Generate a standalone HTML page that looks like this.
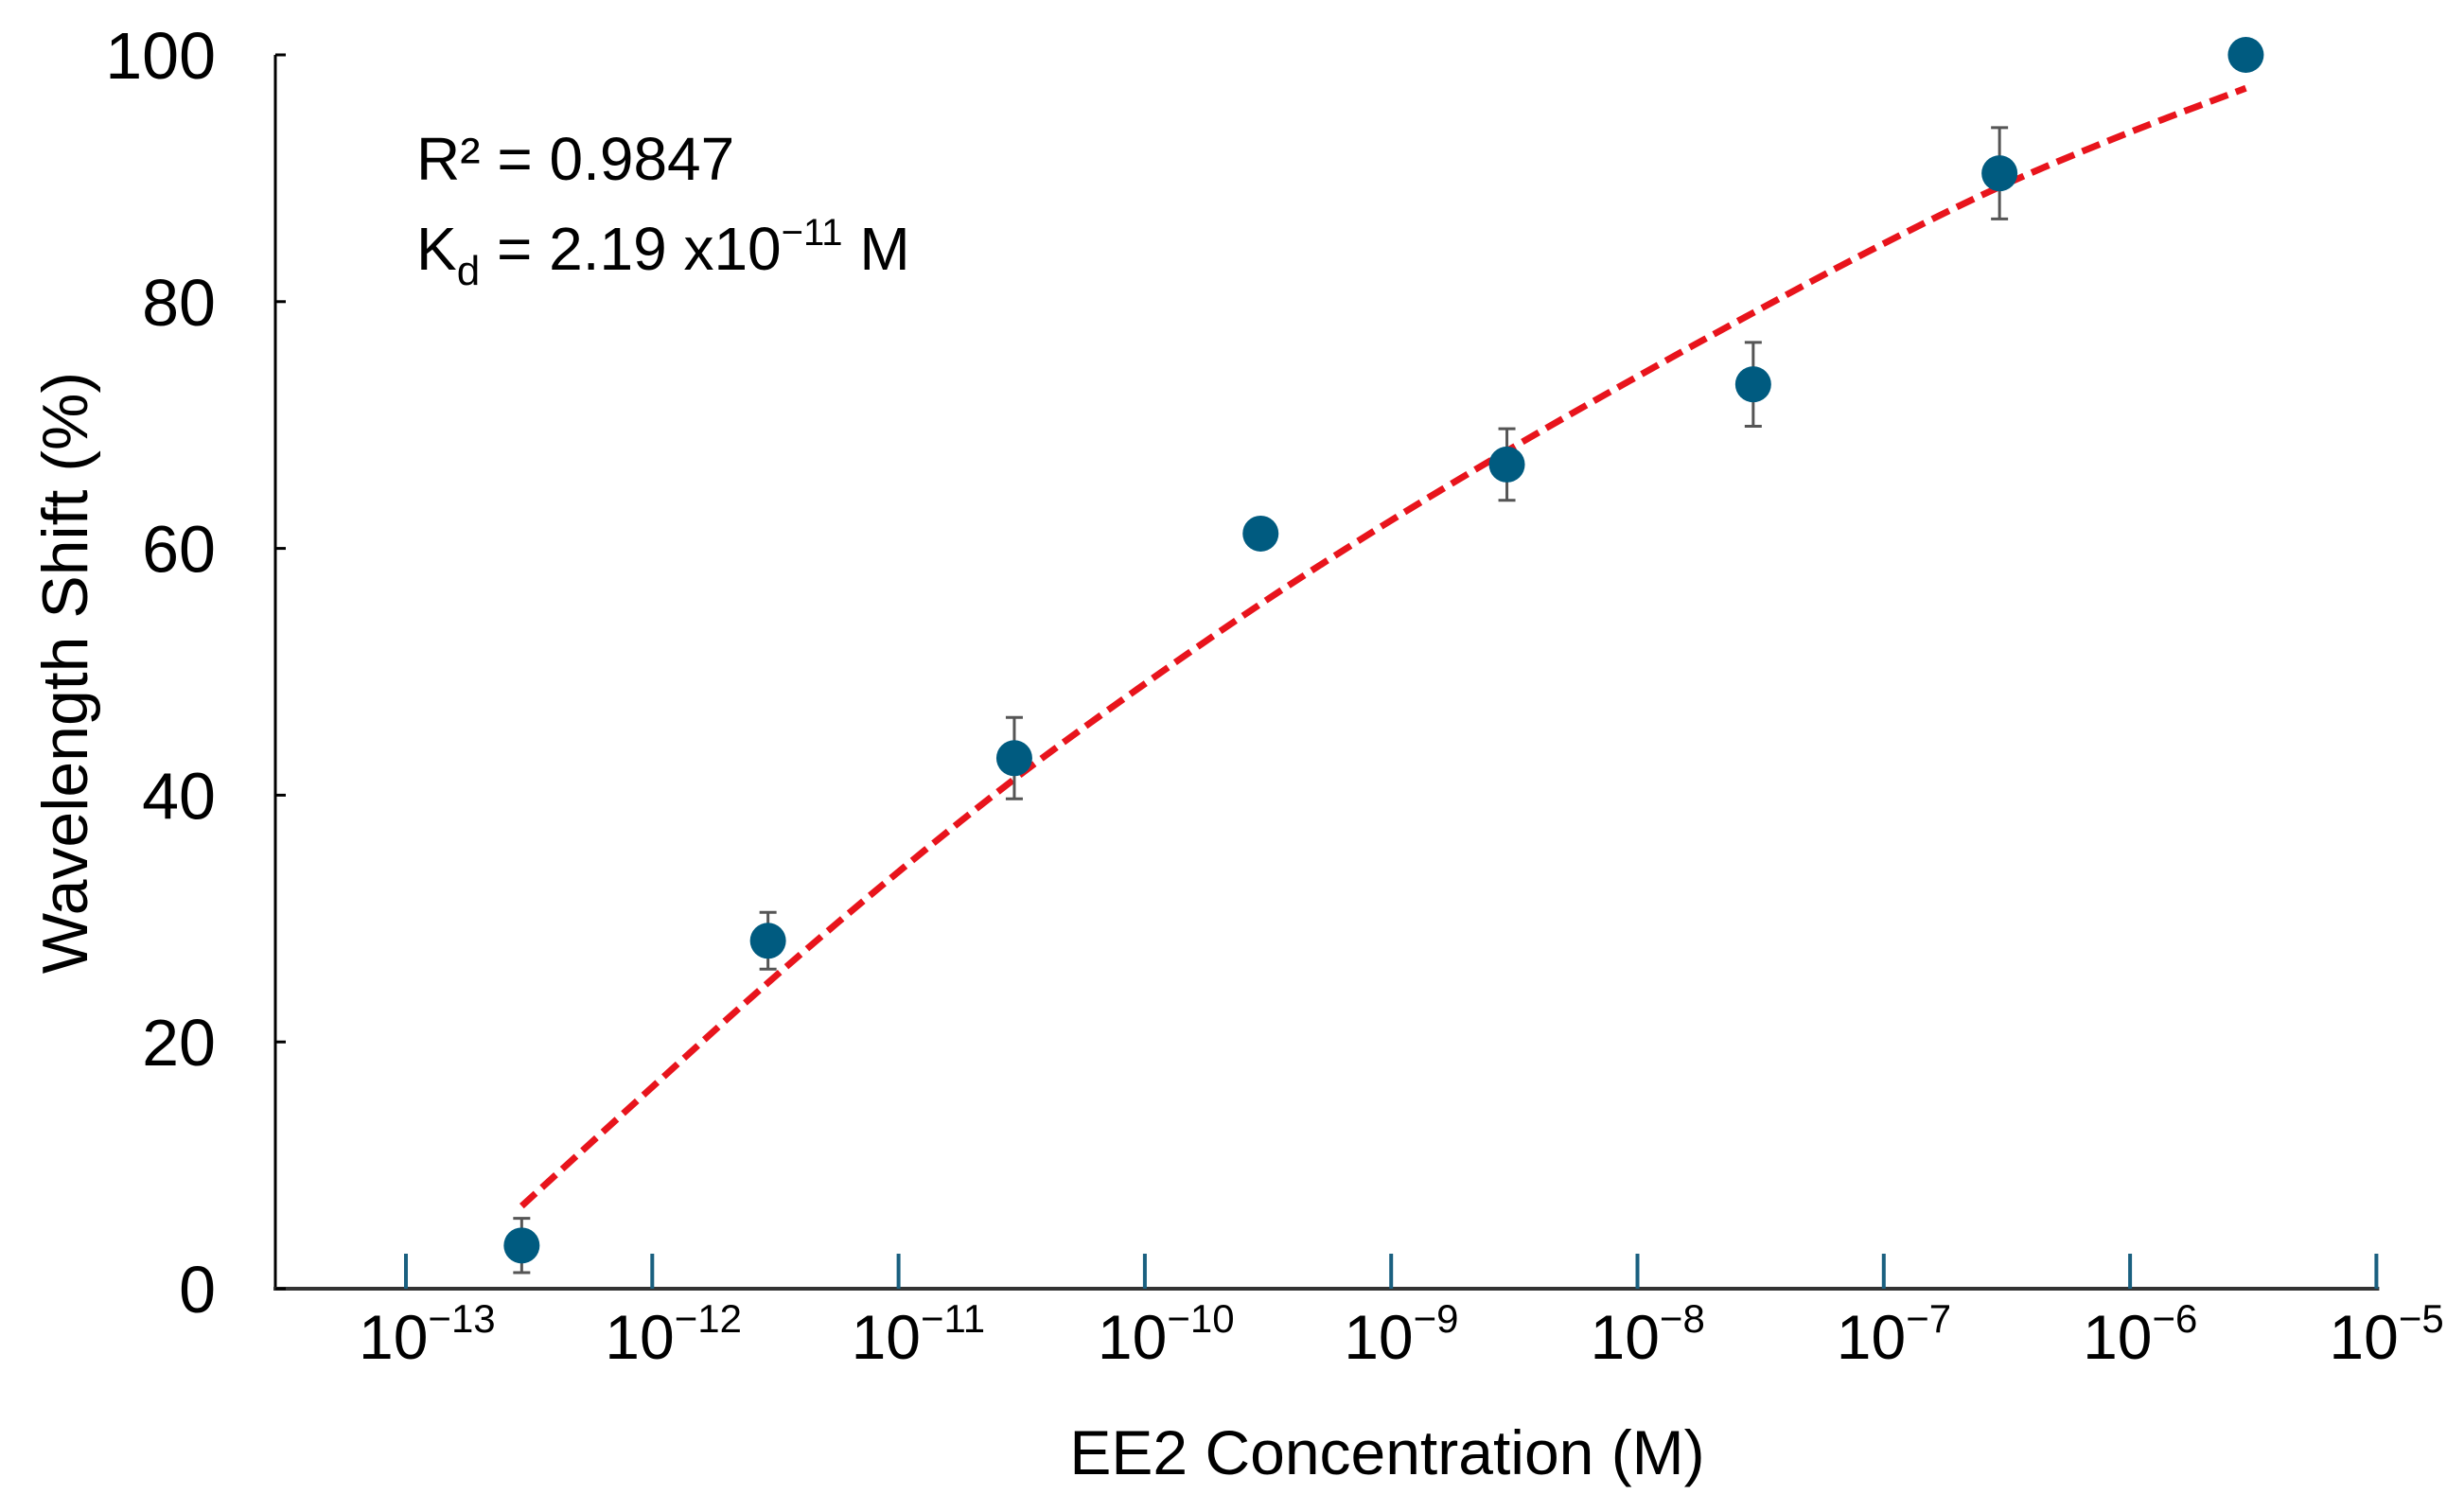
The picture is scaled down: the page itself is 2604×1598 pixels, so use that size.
<!DOCTYPE html>
<html><head><meta charset="utf-8"><style>
html,body{margin:0;padding:0;background:#fff;}
svg{display:block;font-family:"Liberation Sans",Arial,sans-serif;}
</style></head><body>
<svg id="chart" width="2604" height="1598" viewBox="0 0 2604 1598" xmlns="http://www.w3.org/2000/svg">
<g id="axes"></g>
<g id="fit"></g>
<g id="pts"></g>
<text x="440" y="190" font-size="64" fill="#000">R² = 0.9847</text>
<text x="440" y="285" font-size="64" fill="#000">K<tspan font-size="44" dy="16">d</tspan><tspan dy="-16"> = 2.19 x10</tspan><tspan font-size="40" dy="-26">−11</tspan><tspan dy="26"> M</tspan></text>
<text x="1466" y="1558" font-size="66" text-anchor="middle" fill="#000">EE2 Concentration (M)</text>
<text transform="translate(92,711) rotate(-90)" font-size="68" text-anchor="middle" fill="#000">Wavelength Shift (%)</text>
</svg>
<script>
const xExp = [-12.53, -11.53, -10.53, -9.53, -8.53, -7.53, -6.53, -5.53];
const yVals = [3.5, 28.2, 43.0, 61.2, 66.8, 73.3, 90.4, 100.0];
const yErr = [2.2, 2.3, 3.3, 0, 2.9, 3.4, 3.7, 0];
const fitExp = [-12.53, -12.03, -11.53, -11.03, -10.53, -10.03, -9.53, -9.03, -8.53, -8.03, -7.53, -7.03, -6.53, -6.03, -5.53];
const fitVals = [6.7, 15.8, 24.8, 33.3, 41.3, 48.6, 55.5, 61.9, 67.9, 73.6, 79.1, 84.4, 89.3, 93.5, 97.3];
const xTickExp = [-13, -12, -11, -10, -9, -8, -7, -6, -5];
const yTicks = [0, 20, 40, 60, 80, 100];

const NS = "http://www.w3.org/2000/svg";
const X0 = 429, XD = 260.3, Y0 = 1362, YK = 13.04;
function sx(e){ return X0 + (e + 13) * XD; }
function sy(v){ return Y0 - v * YK; }
function mk(tag, attrs, parent){ const el = document.createElementNS(NS, tag); for (const k in attrs) el.setAttribute(k, attrs[k]); parent.appendChild(el); return el; }

const axes = document.getElementById('axes');
let l = mk('line', {x1:291, y1:sy(100), x2:291, y2:Y0, stroke:'#000', 'stroke-width':3}, axes);


l = mk('line', {x1:289, y1:Y0, x2:sx(-5)+3, y2:Y0, stroke:'#333', 'stroke-width':4}, axes);



yTicks.forEach(v => {
  const t = mk('line', {x1:291, y1:sy(v), x2:302, y2:sy(v), stroke:'#000', 'stroke-width':3}, axes);
  
  
  const tx = mk('text', {x:228, y:sy(v)+25, 'font-size':70, 'text-anchor':'end', fill:'#000'}, axes);
  tx.textContent = String(v);
  
  
});

xTickExp.forEach(e => {
  const x = sx(e);
  const t = mk('line', {x1:x, y1:Y0-37, x2:x, y2:Y0, stroke:'#1a6080', 'stroke-width':4}, axes);
  
  
  const tx = mk('text', {x:x-50, y:1436, 'font-size':66, fill:'#000'}, axes);
  
  
  tx.appendChild(document.createTextNode('10'));
  const sp = mk('tspan', {'font-size':42, dy:-28}, tx);
  sp.textContent = '−' + Math.abs(e);
});

const fp = fitExp.map((e,i) => [sx(e), sy(fitVals[i])]);
let d = `M${fp[0][0]},${fp[0][1]}`;
for (let i = 0; i < fp.length - 1; i++) {
  const p0 = fp[Math.max(0,i-1)], p1 = fp[i], p2 = fp[i+1], p3 = fp[Math.min(fp.length-1,i+2)];
  const c1 = [p1[0]+(p2[0]-p0[0])/6, p1[1]+(p2[1]-p0[1])/6];
  const c2 = [p2[0]-(p3[0]-p1[0])/6, p2[1]-(p3[1]-p1[1])/6];
  d += ` C${c1[0]},${c1[1]} ${c2[0]},${c2[1]} ${p2[0]},${p2[1]}`;
}
const fitPath = mk('path', {d:d, fill:'none', stroke:'#e8141c', 'stroke-width':7, 'stroke-dasharray':'20 9'}, document.getElementById('fit'));



const pts = document.getElementById('pts');
xExp.forEach((e,i) => {
  const x = sx(e), y = sy(yVals[i]);
  if (yErr[i] > 0) {
    const g = mk('g', {stroke:'#555', 'stroke-width':3}, pts);
    
    
    const yt = sy(yVals[i]+yErr[i]), yb = sy(yVals[i]-yErr[i]);
    mk('line', {x1:x, y1:yt, x2:x, y2:yb}, g);
    mk('line', {x1:x-9, y1:yt, x2:x+9, y2:yt}, g);
    mk('line', {x1:x-9, y1:yb, x2:x+9, y2:yb}, g);
  }
  const c = mk('circle', {cx:x, cy:y, r:19, fill:'#005b80'}, pts);
  
  
});
</script>
</body></html>
